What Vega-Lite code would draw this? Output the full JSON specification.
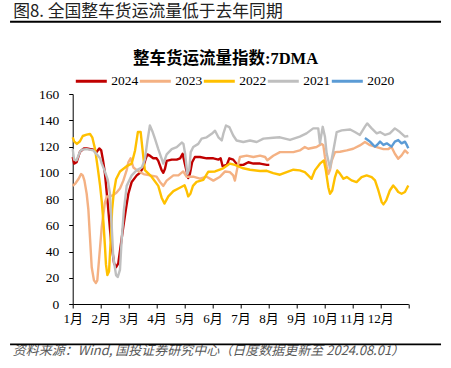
{
  "$schema": "https://vega.github.io/schema/vega-lite/v6.json",
  "width": 335.6,
  "height": 210,
  "autosize": {"type": "none"},
  "padding": {"left": 72.7, "top": 94, "right": 42.7, "bottom": 64},
  "background": "white",
  "config": {"view": {"stroke": null}},
  "title": {"text": "整车货运流量指数:7DMA", "font": "Liberation Serif, Noto Sans CJK SC", "fontSize": 16.5, "fontWeight": "bold", "color": "black", "anchor": "middle", "frame": "group", "dx": -15, "dy": 68},
  "resolve": {"scale": {"x": "independent", "y": "independent"}, "axis": {"x": "independent", "y": "independent"}},
  "data": {"values": [
    {"s":"2024","m":0,"v":112},{"s":"2024","m":0.05,"v":107},{"s":"2024","m":0.14,"v":108},{"s":"2024","m":0.26,"v":116},{"s":"2024","m":0.4,"v":118.5},{"s":"2024","m":0.5,"v":118.5},{"s":"2024","m":0.74,"v":117.5},{"s":"2024","m":0.86,"v":116},{"s":"2024","m":0.95,"v":118.5},{"s":"2024","m":1.02,"v":117},{"s":"2024","m":1.08,"v":110},{"s":"2024","m":1.15,"v":100},{"s":"2024","m":1.26,"v":75},{"s":"2024","m":1.37,"v":48},{"s":"2024","m":1.48,"v":31},{"s":"2024","m":1.55,"v":28},{"s":"2024","m":1.63,"v":31},{"s":"2024","m":1.72,"v":45},{"s":"2024","m":1.81,"v":59},{"s":"2024","m":1.9,"v":72},{"s":"2024","m":1.99,"v":84},{"s":"2024","m":2.11,"v":93},{"s":"2024","m":2.29,"v":98},{"s":"2024","m":2.41,"v":100},{"s":"2024","m":2.52,"v":104},{"s":"2024","m":2.6,"v":110},{"s":"2024","m":2.67,"v":114},{"s":"2024","m":2.76,"v":113},{"s":"2024","m":2.88,"v":111},{"s":"2024","m":3.0,"v":111},{"s":"2024","m":3.06,"v":109},{"s":"2024","m":3.18,"v":102},{"s":"2024","m":3.24,"v":100},{"s":"2024","m":3.3,"v":103},{"s":"2024","m":3.36,"v":109},{"s":"2024","m":3.54,"v":110},{"s":"2024","m":3.72,"v":110},{"s":"2024","m":3.84,"v":111},{"s":"2024","m":3.93,"v":114.5},{"s":"2024","m":4.02,"v":106},{"s":"2024","m":4.13,"v":96},{"s":"2024","m":4.19,"v":99},{"s":"2024","m":4.27,"v":108},{"s":"2024","m":4.37,"v":112},{"s":"2024","m":4.55,"v":112},{"s":"2024","m":4.79,"v":111},{"s":"2024","m":5.03,"v":111},{"s":"2024","m":5.21,"v":110},{"s":"2024","m":5.29,"v":111},{"s":"2024","m":5.36,"v":105},{"s":"2024","m":5.51,"v":106},{"s":"2024","m":5.6,"v":111},{"s":"2024","m":5.74,"v":110},{"s":"2024","m":5.89,"v":106},{"s":"2024","m":6.1,"v":106},{"s":"2024","m":6.28,"v":108},{"s":"2024","m":6.46,"v":107},{"s":"2024","m":6.7,"v":107},{"s":"2024","m":6.94,"v":106},{"s":"2024","m":7.03,"v":106},
    {"s":"2023","m":0,"v":90},{"s":"2023","m":0.1,"v":92},{"s":"2023","m":0.2,"v":95},{"s":"2023","m":0.3,"v":99},{"s":"2023","m":0.36,"v":98},{"s":"2023","m":0.42,"v":94},{"s":"2023","m":0.5,"v":84},{"s":"2023","m":0.56,"v":72},{"s":"2023","m":0.62,"v":50},{"s":"2023","m":0.68,"v":28},{"s":"2023","m":0.76,"v":18},{"s":"2023","m":0.83,"v":16},{"s":"2023","m":0.88,"v":18},{"s":"2023","m":0.95,"v":36},{"s":"2023","m":1.04,"v":59},{"s":"2023","m":1.15,"v":77},{"s":"2023","m":1.22,"v":82},{"s":"2023","m":1.33,"v":82},{"s":"2023","m":1.45,"v":83},{"s":"2023","m":1.57,"v":85},{"s":"2023","m":1.69,"v":88},{"s":"2023","m":1.81,"v":94},{"s":"2023","m":1.93,"v":102},{"s":"2023","m":1.99,"v":108},{"s":"2023","m":2.07,"v":111},{"s":"2023","m":2.17,"v":104},{"s":"2023","m":2.29,"v":102},{"s":"2023","m":2.53,"v":99},{"s":"2023","m":2.76,"v":98},{"s":"2023","m":3.0,"v":97},{"s":"2023","m":3.12,"v":93},{"s":"2023","m":3.24,"v":90},{"s":"2023","m":3.36,"v":94},{"s":"2023","m":3.6,"v":98},{"s":"2023","m":3.78,"v":98},{"s":"2023","m":3.95,"v":101},{"s":"2023","m":4.07,"v":97},{"s":"2023","m":4.31,"v":97},{"s":"2023","m":4.55,"v":95.5},{"s":"2023","m":4.79,"v":97},{"s":"2023","m":5.03,"v":94},{"s":"2023","m":5.27,"v":97},{"s":"2023","m":5.45,"v":101},{"s":"2023","m":5.62,"v":100.5},{"s":"2023","m":5.74,"v":98},{"s":"2023","m":5.8,"v":94},{"s":"2023","m":5.89,"v":104},{"s":"2023","m":5.98,"v":112},{"s":"2023","m":6.22,"v":113},{"s":"2023","m":6.46,"v":112},{"s":"2023","m":6.7,"v":113},{"s":"2023","m":6.88,"v":112},{"s":"2023","m":6.96,"v":109.5},{"s":"2023","m":7.17,"v":113},{"s":"2023","m":7.41,"v":115.7},{"s":"2023","m":7.65,"v":115.7},{"s":"2023","m":7.89,"v":115.7},{"s":"2023","m":8.12,"v":117},{"s":"2023","m":8.3,"v":119.6},{"s":"2023","m":8.42,"v":118.3},{"s":"2023","m":8.72,"v":119.6},{"s":"2023","m":8.9,"v":122},{"s":"2023","m":8.96,"v":121},{"s":"2023","m":9.02,"v":112},{"s":"2023","m":9.08,"v":105},{"s":"2023","m":9.14,"v":99},{"s":"2023","m":9.2,"v":102},{"s":"2023","m":9.26,"v":109},{"s":"2023","m":9.38,"v":115.7},{"s":"2023","m":9.56,"v":116},{"s":"2023","m":9.8,"v":117},{"s":"2023","m":10.03,"v":118.3},{"s":"2023","m":10.27,"v":120.8},{"s":"2023","m":10.45,"v":123.4},{"s":"2023","m":10.63,"v":121},{"s":"2023","m":10.87,"v":119.6},{"s":"2023","m":11.11,"v":118},{"s":"2023","m":11.28,"v":118},{"s":"2023","m":11.4,"v":119.6},{"s":"2023","m":11.52,"v":114.5},{"s":"2023","m":11.64,"v":110.7},{"s":"2023","m":11.76,"v":113.2},{"s":"2023","m":11.88,"v":117},{"s":"2023","m":12.0,"v":114.5},
    {"s":"2022","m":0,"v":127},{"s":"2022","m":0.05,"v":124},{"s":"2022","m":0.15,"v":122},{"s":"2022","m":0.26,"v":124},{"s":"2022","m":0.36,"v":128},{"s":"2022","m":0.5,"v":129},{"s":"2022","m":0.62,"v":129.5},{"s":"2022","m":0.7,"v":127},{"s":"2022","m":0.8,"v":118},{"s":"2022","m":0.9,"v":103},{"s":"2022","m":0.98,"v":90},{"s":"2022","m":1.04,"v":78},{"s":"2022","m":1.1,"v":62},{"s":"2022","m":1.15,"v":45},{"s":"2022","m":1.19,"v":30},{"s":"2022","m":1.24,"v":22},{"s":"2022","m":1.3,"v":25},{"s":"2022","m":1.35,"v":45},{"s":"2022","m":1.41,"v":72},{"s":"2022","m":1.47,"v":85},{"s":"2022","m":1.55,"v":95},{"s":"2022","m":1.69,"v":101},{"s":"2022","m":1.93,"v":105},{"s":"2022","m":2.11,"v":107},{"s":"2022","m":2.23,"v":117},{"s":"2022","m":2.33,"v":131},{"s":"2022","m":2.43,"v":131},{"s":"2022","m":2.5,"v":117},{"s":"2022","m":2.58,"v":102},{"s":"2022","m":2.82,"v":97},{"s":"2022","m":3.06,"v":90},{"s":"2022","m":3.18,"v":81},{"s":"2022","m":3.28,"v":76.5},{"s":"2022","m":3.42,"v":82},{"s":"2022","m":3.6,"v":86},{"s":"2022","m":3.78,"v":88},{"s":"2022","m":4.0,"v":90.5},{"s":"2022","m":4.07,"v":86.5},{"s":"2022","m":4.13,"v":82},{"s":"2022","m":4.21,"v":84},{"s":"2022","m":4.3,"v":90},{"s":"2022","m":4.43,"v":93},{"s":"2022","m":4.67,"v":94.5},{"s":"2022","m":4.85,"v":100.8},{"s":"2022","m":5.09,"v":101},{"s":"2022","m":5.38,"v":103.4},{"s":"2022","m":5.62,"v":107},{"s":"2022","m":5.8,"v":106},{"s":"2022","m":6.1,"v":103.4},{"s":"2022","m":6.34,"v":102.3},{"s":"2022","m":6.7,"v":101.3},{"s":"2022","m":6.94,"v":101.5},{"s":"2022","m":7.17,"v":99.7},{"s":"2022","m":7.41,"v":98.5},{"s":"2022","m":7.65,"v":100.5},{"s":"2022","m":7.89,"v":102.3},{"s":"2022","m":8.12,"v":101.8},{"s":"2022","m":8.3,"v":100.5},{"s":"2022","m":8.42,"v":98},{"s":"2022","m":8.54,"v":95.4},{"s":"2022","m":8.66,"v":101.8},{"s":"2022","m":8.84,"v":106.9},{"s":"2022","m":8.98,"v":109.4},{"s":"2022","m":9.05,"v":102},{"s":"2022","m":9.14,"v":89},{"s":"2022","m":9.2,"v":84},{"s":"2022","m":9.28,"v":86.5},{"s":"2022","m":9.38,"v":96.7},{"s":"2022","m":9.46,"v":101.8},{"s":"2022","m":9.56,"v":99.2},{"s":"2022","m":9.68,"v":95.4},{"s":"2022","m":9.8,"v":96.7},{"s":"2022","m":9.97,"v":94.2},{"s":"2022","m":10.15,"v":92.9},{"s":"2022","m":10.33,"v":96.7},{"s":"2022","m":10.51,"v":98},{"s":"2022","m":10.69,"v":96.7},{"s":"2022","m":10.81,"v":94.2},{"s":"2022","m":10.93,"v":86.5},{"s":"2022","m":11.05,"v":77.6},{"s":"2022","m":11.11,"v":75.9},{"s":"2022","m":11.21,"v":79},{"s":"2022","m":11.34,"v":86.5},{"s":"2022","m":11.46,"v":90.3},{"s":"2022","m":11.56,"v":87.8},{"s":"2022","m":11.64,"v":85.3},{"s":"2022","m":11.76,"v":84},{"s":"2022","m":11.88,"v":85.3},{"s":"2022","m":12.0,"v":90.3},
    {"s":"2021","m":0,"v":118},{"s":"2021","m":0.05,"v":110},{"s":"2021","m":0.14,"v":109.5},{"s":"2021","m":0.26,"v":116},{"s":"2021","m":0.32,"v":117.5},{"s":"2021","m":0.5,"v":118},{"s":"2021","m":0.74,"v":117},{"s":"2021","m":0.86,"v":114},{"s":"2021","m":0.98,"v":111},{"s":"2021","m":1.04,"v":107},{"s":"2021","m":1.15,"v":101},{"s":"2021","m":1.25,"v":95},{"s":"2021","m":1.33,"v":84.5},{"s":"2021","m":1.39,"v":61.5},{"s":"2021","m":1.45,"v":36},{"s":"2021","m":1.55,"v":22},{"s":"2021","m":1.61,"v":20.5},{"s":"2021","m":1.69,"v":26},{"s":"2021","m":1.75,"v":48.8},{"s":"2021","m":1.83,"v":71.6},{"s":"2021","m":1.93,"v":90},{"s":"2021","m":2.11,"v":98},{"s":"2021","m":2.29,"v":102},{"s":"2021","m":2.47,"v":104},{"s":"2021","m":2.58,"v":110},{"s":"2021","m":2.67,"v":124},{"s":"2021","m":2.76,"v":136},{"s":"2021","m":2.86,"v":131},{"s":"2021","m":2.94,"v":126},{"s":"2021","m":3.06,"v":118},{"s":"2021","m":3.18,"v":110.7},{"s":"2021","m":3.24,"v":107},{"s":"2021","m":3.36,"v":114},{"s":"2021","m":3.54,"v":118},{"s":"2021","m":3.72,"v":119.6},{"s":"2021","m":3.9,"v":123},{"s":"2021","m":3.96,"v":122},{"s":"2021","m":4.02,"v":114.5},{"s":"2021","m":4.1,"v":99},{"s":"2021","m":4.17,"v":103},{"s":"2021","m":4.22,"v":115.7},{"s":"2021","m":4.31,"v":119.6},{"s":"2021","m":4.49,"v":122},{"s":"2021","m":4.61,"v":126},{"s":"2021","m":4.79,"v":127},{"s":"2021","m":4.97,"v":129.7},{"s":"2021","m":5.09,"v":132},{"s":"2021","m":5.21,"v":127},{"s":"2021","m":5.33,"v":124.6},{"s":"2021","m":5.39,"v":130},{"s":"2021","m":5.48,"v":136},{"s":"2021","m":5.6,"v":134.8},{"s":"2021","m":5.74,"v":128.4},{"s":"2021","m":5.86,"v":124.6},{"s":"2021","m":6.1,"v":123.4},{"s":"2021","m":6.34,"v":124.6},{"s":"2021","m":6.58,"v":123.4},{"s":"2021","m":6.82,"v":126},{"s":"2021","m":7.17,"v":126.7},{"s":"2021","m":7.41,"v":127},{"s":"2021","m":7.77,"v":125},{"s":"2021","m":8.12,"v":127.5},{"s":"2021","m":8.36,"v":130},{"s":"2021","m":8.6,"v":133.8},{"s":"2021","m":8.78,"v":133.8},{"s":"2021","m":8.84,"v":122.4},{"s":"2021","m":8.94,"v":135},{"s":"2021","m":9.02,"v":127.5},{"s":"2021","m":9.08,"v":114.8},{"s":"2021","m":9.2,"v":103.6},{"s":"2021","m":9.32,"v":117},{"s":"2021","m":9.44,"v":131},{"s":"2021","m":9.62,"v":132.3},{"s":"2021","m":9.92,"v":133},{"s":"2021","m":10.09,"v":131},{"s":"2021","m":10.27,"v":128.8},{"s":"2021","m":10.45,"v":135.1},{"s":"2021","m":10.53,"v":137.6},{"s":"2021","m":10.69,"v":133.8},{"s":"2021","m":10.87,"v":130},{"s":"2021","m":10.99,"v":131},{"s":"2021","m":11.17,"v":128.8},{"s":"2021","m":11.34,"v":130},{"s":"2021","m":11.52,"v":133.8},{"s":"2021","m":11.7,"v":131},{"s":"2021","m":11.88,"v":127.5},{"s":"2021","m":12.0,"v":128},
    {"s":"2020","m":10.45,"v":126.5},{"s":"2020","m":10.55,"v":125},{"s":"2020","m":10.63,"v":123.7},{"s":"2020","m":10.75,"v":121},{"s":"2020","m":10.81,"v":119.9},{"s":"2020","m":10.9,"v":121.5},{"s":"2020","m":10.99,"v":123.7},{"s":"2020","m":11.11,"v":121.2},{"s":"2020","m":11.23,"v":122.4},{"s":"2020","m":11.4,"v":119.9},{"s":"2020","m":11.52,"v":123.7},{"s":"2020","m":11.64,"v":124.9},{"s":"2020","m":11.76,"v":122.4},{"s":"2020","m":11.88,"v":123.7},{"s":"2020","m":11.95,"v":121},{"s":"2020","m":12.0,"v":118.6}
  ]},
  "layer": [
    {
      "encoding": {
        "x": {"field": "m", "type": "quantitative", "scale": {"domain": [0, 12], "nice": false, "zero": false},
          "axis": {"values": [0,1,2,3,4,5,6,7,8,9,10,11,12], "labelExpr": "datum.value < 12 ? (datum.value + 1) + '月' : ''", "labelFont": "Liberation Serif, Noto Sans CJK SC", "labelFontSize": 13, "labelColor": "black", "labelPadding": 4, "labelFlush": false, "labelOverlap": false, "tickSize": 4, "tickColor": "black", "domainColor": "black", "grid": false,
            "title": "资料来源：Wind, 国投证券研究中心（日度数据更新至 2024.08.01）", "titleX": -60.4, "titleY": 50, "titleAlign": "left", "titleBaseline": "alphabetic", "titleFont": "Noto Sans CJK SC", "titleFontSize": 13, "titleFontStyle": "italic", "titleFontWeight": "normal", "titleColor": "#595959"}},
        "y": {"field": "v", "type": "quantitative", "scale": {"domain": [0, 160], "nice": false},
          "axis": {"values": [0,20,40,60,80,100,120,140,160], "labelFont": "Liberation Serif", "labelFontSize": 13.5, "labelColor": "black", "labelPadding": 10, "tickSize": 4, "tickColor": "black", "domainColor": "black", "grid": false,
            "title": "图8. 全国整车货运流量低于去年同期", "titleX": -60, "titleY": -78, "titleAngle": 0, "titleAlign": "left", "titleBaseline": "alphabetic", "titleFont": "Noto Sans CJK SC", "titleFontSize": 16.8, "titleFontWeight": "normal", "titleColor": "#222222"}},
        "color": {"field": "s", "type": "nominal",
          "scale": {"domain": ["2024","2023","2022","2021","2020"], "range": ["#C00000","#F4B183","#FFC000","#BFBFBF","#5B9BD5"]},
          "legend": {"orient": "none", "legendX": 1.6, "legendY": -30, "direction": "horizontal", "title": null, "symbolType": "stroke", "symbolSize": 961, "symbolStrokeWidth": 3, "labelFont": "Liberation Serif", "labelFontSize": 13.5, "labelColor": "black", "labelOffset": 3, "columnPadding": -9}}
      },
      "layer": [
        {"transform": [{"filter": "datum.s == '2024'"}], "mark": {"type": "line", "strokeWidth": 2.4, "strokeJoin": "round"}},
        {"transform": [{"filter": "datum.s == '2023'"}], "mark": {"type": "line", "strokeWidth": 2.4, "strokeJoin": "round"}},
        {"transform": [{"filter": "datum.s == '2022'"}], "mark": {"type": "line", "strokeWidth": 2.4, "strokeJoin": "round"}},
        {"transform": [{"filter": "datum.s == '2021'"}], "mark": {"type": "line", "strokeWidth": 2.4, "strokeJoin": "round"}},
        {"transform": [{"filter": "datum.s == '2020'"}], "mark": {"type": "line", "strokeWidth": 2.4, "strokeJoin": "round"}}
      ]
    },
    {"data": {"values": [{"pos": "header"}]}, "mark": {"type": "rect", "color": "black"},
      "encoding": {"x": {"datum": -2.24, "type": "quantitative", "scale": {"domain": [0, 12], "nice": false, "zero": false}, "axis": null}, "x2": {"datum": 13.17}, "y": {"datum": 215.8, "type": "quantitative", "scale": {"domain": [0, 160], "nice": false}, "axis": null}, "y2": {"datum": 214.3}}},
    {"data": {"values": [{"pos": "footer"}]}, "mark": {"type": "rect", "color": "black"},
      "encoding": {"x": {"datum": -2.24, "type": "quantitative", "scale": {"domain": [0, 12], "nice": false, "zero": false}, "axis": null}, "x2": {"datum": 13.17}, "y": {"datum": -30.0, "type": "quantitative", "scale": {"domain": [0, 160], "nice": false}, "axis": null}, "y2": {"datum": -31.5}}}
  ]
}
